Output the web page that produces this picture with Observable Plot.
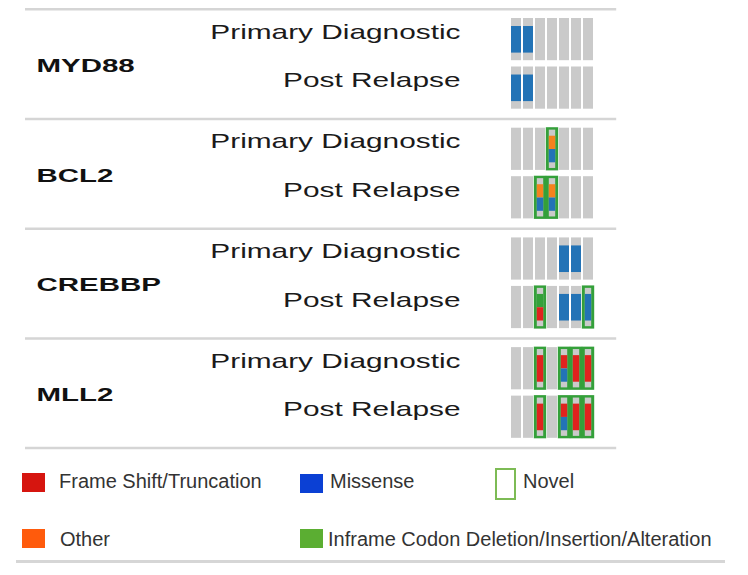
<!DOCTYPE html>
<html>
<head>
<meta charset="utf-8">
<script src="https://cdn.jsdelivr.net/npm/d3@7"></script>
<script src="https://cdn.jsdelivr.net/npm/@observablehq/plot@0.6"></script>
<style>
  body { margin: 0; background: #fff; font-family: "Liberation Sans", Arial, sans-serif; }
  #wrap { position: relative; width: 748px; height: 575px; overflow: hidden; }
  .lg { position: absolute; }
  .sq { position: absolute; width: 23px; height: 19px; }
  .lt { position: absolute; font-size: 20px; line-height: 20px; color: #333; white-space: nowrap; }
</style>
</head>
<body>
<div id="wrap"><div id="chart"></div><div id="legend"></div></div>
<script>
// ---- data ----
const genes = ["MYD88", "BCL2", "CREBBP", "MLL2"];
const samples = ["Primary Diagnostic", "Post Relapse"];
const patients = ["P1", "P2", "P3", "P4", "P5", "P6", "P7"];
const mutationTypes = ["Frame Shift/Truncation", "Missense", "Other", "Inframe Codon Deletion/Insertion/Alteration"];
const cellColors = ["#e0231e", "#2373b6", "#f5821e", "#34a03a"];
const legendColors = ["#d6150f", "#0b40d4", "#ff5b0c", "#5bae32"];
const novelLabel = "Novel";

// alterations (parallel arrays)
const altGene    = ["MYD88","MYD88","MYD88","MYD88","BCL2","BCL2","BCL2","CREBBP","CREBBP","CREBBP","CREBBP","CREBBP","CREBBP","MLL2","MLL2","MLL2","MLL2","MLL2","MLL2","MLL2","MLL2"];
const altSample  = [0,0,1,1, 0,1,1, 0,0,1,1,1,1, 0,0,0,0,1,1,1,1];
const altPatient = ["P1","P2","P1","P2", "P4","P3","P4", "P5","P6","P3","P5","P6","P7", "P3","P5","P6","P7","P3","P5","P6","P7"];
const altTypes   = [
  ["Missense"],["Missense"],["Missense"],["Missense"],
  ["Other","Missense"],["Other","Missense"],["Other","Missense"],
  ["Missense"],["Missense"],["Inframe Codon Deletion/Insertion/Alteration","Frame Shift/Truncation"],["Missense"],["Missense"],["Missense"],
  ["Frame Shift/Truncation"],["Frame Shift/Truncation","Missense"],["Frame Shift/Truncation"],["Frame Shift/Truncation"],
  ["Frame Shift/Truncation"],["Frame Shift/Truncation","Missense"],["Frame Shift/Truncation"],["Frame Shift/Truncation"]
];
const altNovel   = [false,false,false,false, true,true,true, false,false,true,false,false,true, true,true,true,true,true,true,true,true];

// ---- layout (in row units) ----
const GENE_STEP = 2.262, ROW_H = 0.87, B0 = 0.19, B1 = 0.82, SEP_OFF = 0.19;
const GRAY = "#cacaca", NOVEL = "#34a03a", INNER = 1.8;
const rowTop = (gi, si) => gi * GENE_STEP + si;

const cells = [];
genes.forEach((g, gi) => samples.forEach((s, si) => patients.forEach(p =>
  cells.push({gene: g, sample: s, patient: p, top: rowTop(gi, si)}))));

const alts = altGene.map((g, i) => ({
  gene: g, sample: samples[altSample[i]], patient: altPatient[i], types: altTypes[i], novel: altNovel[i],
  top: rowTop(genes.indexOf(g), altSample[i])
}));
const segs = alts.flatMap(a => a.types.map((t, j) => ({
  ...a, type: t,
  y1: a.top + ROW_H * (B0 + (B1 - B0) * j / a.types.length),
  y2: a.top + ROW_H * (B0 + (B1 - B0) * (j + 1) / a.types.length)
})));
const rows = genes.flatMap((g, gi) => samples.map((s, si) => ({gene: g, sample: s, mid: rowTop(gi, si) + ROW_H / 2})));
const geneRows = genes.map((g, gi) => ({gene: g, mid: gi * GENE_STEP + (1 + ROW_H) / 2}));
const seps = d3.range(genes.length + 1).map(i => i * GENE_STEP - SEP_OFF);

const chart = Plot.plot({
  width: 748, height: 455,
  marginLeft: 510, marginRight: 154.8, marginTop: 0, marginBottom: 0,
  style: {fontFamily: "Liberation Sans, Arial, sans-serif", background: "#fff"},
  x: {type: "band", domain: patients, paddingInner: 0.18, paddingOuter: 0, axis: null},
  y: {type: "linear", domain: [0, 1], range: [18, 66.5], axis: null},
  color: {domain: mutationTypes, range: cellColors},
  marks: [
    Plot.ruleY(seps, {y: d => d, stroke: "#d5d5d5", strokeWidth: 2.5, insetLeft: -485, insetRight: -23}),
    Plot.barY(cells, {x: "patient", y1: "top", y2: d => d.top + ROW_H, fill: GRAY}),
    Plot.barY(alts.filter(d => d.novel), {x: "patient", y1: d => d.top - 0.01, y2: d => d.top + ROW_H + 0.01, fill: NOVEL, insetLeft: -1.2, insetRight: -1.2}),
    Plot.barY(alts.filter(d => d.novel), {x: "patient", y1: d => d.top + 0.04, y2: d => d.top + ROW_H - 0.04, fill: GRAY, insetLeft: INNER, insetRight: INNER}),
    Plot.barY(segs.filter(d => !d.novel), {x: "patient", y1: "y1", y2: "y2", fill: "type"}),
    Plot.barY(segs.filter(d => d.novel), {x: "patient", y1: "y1", y2: "y2", fill: "type", insetLeft: INNER, insetRight: INNER}),
    Plot.text(rows, {y: "mid", text: "sample", frameAnchor: "left", dx: -50, dy: -1, textAnchor: "end", lineAnchor: "bottom", fontSize: 21, fill: "#1a1a1a"}),
    Plot.text(geneRows, {y: "mid", text: "gene", frameAnchor: "left", dx: -474, dy: 2, textAnchor: "start", lineAnchor: "middle", fontSize: 19, fontWeight: "bold", fill: "#111"})
  ]
});
document.getElementById("chart").appendChild(chart);

function stretch(group, f) {
  if (!group) return;
  group.querySelectorAll("text").forEach(t => {
    const L = t.getComputedTextLength();
    if (L > 0) {
      t.setAttribute("textLength", (L * f).toFixed(1));
      t.setAttribute("lengthAdjust", "spacingAndGlyphs");
    }
  });
}
const textGroups = chart.querySelectorAll('g[aria-label="text"]');
stretch(textGroups[0], 1.42);
stretch(textGroups[1], 1.55);

// ---- legend (HTML below the SVG) ----
const legend = document.getElementById("legend");
const legendItems = [
  {type: 0, sqLeft: 22, sqTop: 473, textLeft: 59, textTop: 471},
  {type: 1, sqLeft: 300, sqTop: 474, textLeft: 330, textTop: 471},
  {type: 2, sqLeft: 22, sqTop: 529, textLeft: 60, textTop: 529},
  {type: 3, sqLeft: 300, sqTop: 529, textLeft: 328, textTop: 529}
];
legendItems.forEach(it => {
  const sq = document.createElement("div");
  sq.className = "sq";
  sq.style.left = it.sqLeft + "px"; sq.style.top = it.sqTop + "px";
  sq.style.background = legendColors[it.type];
  legend.appendChild(sq);
  const tx = document.createElement("div");
  tx.className = "lt";
  tx.style.left = it.textLeft + "px"; tx.style.top = it.textTop + "px";
  tx.textContent = it.type === 2 ? "Other" : mutationTypes[it.type];
  legend.appendChild(tx);
});
const nb = document.createElement("div");
nb.className = "lg";
Object.assign(nb.style, {left: "495px", top: "468px", width: "21px", height: "32px", border: "2.5px solid #7dbb55", boxSizing: "border-box"});
legend.appendChild(nb);
const nt = document.createElement("div");
nt.className = "lt";
nt.style.left = "523px"; nt.style.top = "471px";
nt.textContent = novelLabel;
legend.appendChild(nt);
// bottom rule as a small SVG
const svgNS = "http://www.w3.org/2000/svg";
const ls = document.createElementNS(svgNS, "svg");
ls.setAttribute("width", "748"); ls.setAttribute("height", "8");
Object.assign(ls.style, {position: "absolute", left: "0px", top: "558px"});
const ln = document.createElementNS(svgNS, "line");
ln.setAttribute("x1", "16"); ln.setAttribute("x2", "725");
ln.setAttribute("y1", "3.5"); ln.setAttribute("y2", "3.5");
ln.setAttribute("stroke", "#d6d6d6"); ln.setAttribute("stroke-width", "3");
ls.appendChild(ln);
legend.appendChild(ls);
</script>
</body>
</html>
